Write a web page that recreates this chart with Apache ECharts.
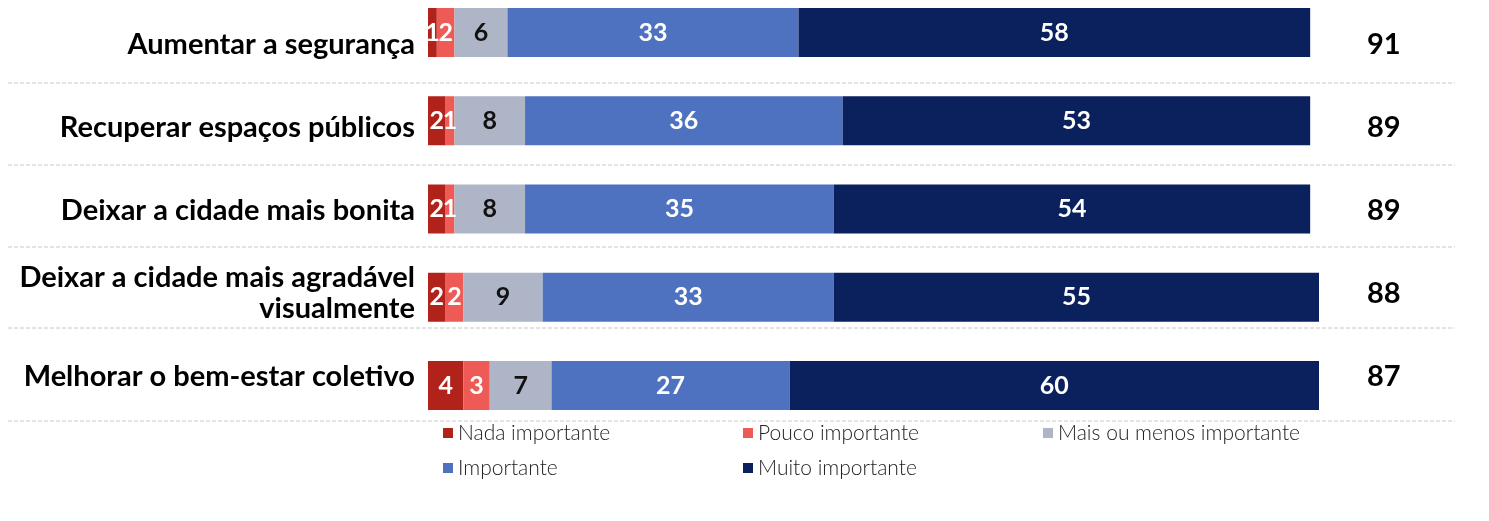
<!DOCTYPE html>
<html><head><meta charset="utf-8">
<script src="https://cdn.jsdelivr.net/npm/echarts@6/dist/echarts.min.js"></script>
<style>html,body{margin:0;padding:0;background:#fff;}#c{width:1489px;height:521px;}</style>
</head><body><div id="c"></div>
<script>
const categories = ['Aumentar a segurança','Recuperar espaços públicos','Deixar a cidade mais bonita','Deixar a cidade mais agradável\nvisualmente','Melhorar o bem-estar coletivo'];
const seriesNames = ['Nada importante','Pouco importante','Mais ou menos importante','Importante','Muito importante'];
const nada = [1,2,2,2,4];
const pouco = [2,1,1,2,3];
const maisMenos = [6,8,8,9,7];
const importante = [33,36,35,33,27];
const muito = [58,53,54,55,60];
const totals = [91,89,89,88,87];
const colors = ['#B0221A','#EE5A56','#ADB5C6','#4F72C0','#0B215E'];
const labelColors = ['#fff','#fff','#111','#fff','#fff'];
const FONT = 'Lato, "Open Sans", sans-serif';

const values = [nada,pouco,maisMenos,importante,muito];
const chart = echarts.init(document.getElementById('c'));
const sepY = [83,165,247,328,421];
chart.setOption({
  animation:false,
  grid:[
    {left:428, top:32.5, width:891, height:353},
    {left:428, top:3, width:891, height:415}
  ],
  xAxis:[
    {gridIndex:0, type:'value', min:0, max:101, show:false},
    {gridIndex:1, type:'value', min:0, max:101, show:false}
  ],
  yAxis:[
    {gridIndex:0, type:'category', data:categories, inverse:true, show:false, boundaryGap:false},
    {gridIndex:1, type:'category', data:categories, inverse:true, position:'left',
     axisLine:{show:false}, axisTick:{show:false}, splitLine:{show:false},
     axisLabel:{margin:13, color:'#000', fontFamily:FONT, fontWeight:'bold', fontSize:29, lineHeight:31, align:'right'}},
    {gridIndex:1, type:'category', data:totals.map(String), inverse:true, position:'right',
     axisLine:{show:false}, axisTick:{show:false}, splitLine:{show:false},
     axisLabel:{margin:48, color:'#000', fontFamily:FONT, fontWeight:'bold', fontSize:29, align:'left'}}
  ],
  legend:{
    left:443, top:418, width:940, padding:0, itemWidth:10, itemHeight:10, itemGap:5, icon:'rect',
    data:seriesNames,
    textStyle:{fontFamily:FONT, fontWeight:300, fontSize:21, color:'#222', width:280, lineHeight:30}
  },
  graphic: sepY.map(y=>({type:'line', silent:true, shape:{x1:8,y1:y,x2:1455,y2:y},
    style:{stroke:'#c8c8c8', lineWidth:1, lineDash:[4,2]}})),
  series: seriesNames.map((n,i)=>({
    name:n, type:'bar', stack:'t', xAxisIndex:0, yAxisIndex:0, barWidth:49, clip:false,
    data: values[i],
    itemStyle:{color:colors[i]},
    label:{show:true, position:'inside', color:labelColors[i], fontFamily:FONT, fontWeight:'bold', fontSize:25}
  }))
});
</script></body></html>
